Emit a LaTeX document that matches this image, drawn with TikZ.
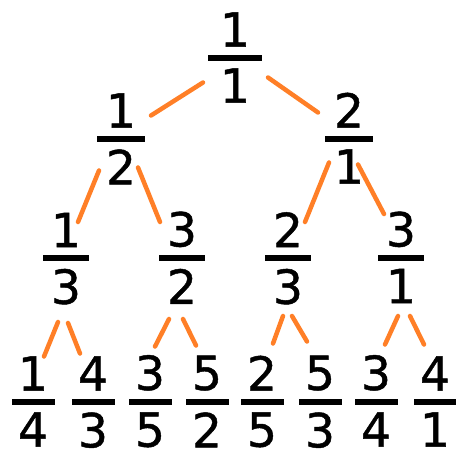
\documentclass[tikz,border=0pt]{standalone}
\usepackage{fontspec}
\setmainfont{DejaVu Sans}[FakeBold=1]
\usetikzlibrary{calc}
\definecolor{branchorange}{RGB}{255,127,39}
\begin{document}
\begin{tikzpicture}[x=1pt, y=-1pt, label distance=7.5pt,
  bar/.style={fill=black, inner sep=0pt, minimum height=6pt, minimum width=#1},
  every label/.style={inner sep=0pt, font=\fontsize{47}{50}\selectfont},
  branch/.style={draw=branchorange, line width=4.5pt, line cap=round},
  ]
 \useasboundingbox (0,0) rectangle (456,448);
 % root
 \node [bar=54pt, label=above:1, label=below:1] (r) at (235,57.5) {};
 % first row
 \node [bar=48pt, label=above:1, label=below:2] (a) at (121,138.5) {};
 \node [bar=48pt, label=above:2, label=below:1] (b) at (349,138.5) {};
 % second row
 \node [bar=46pt, label=above:1, label=below:3] (aa) at (66,258) {};
 \node [bar=46pt, label=above:3, label=below:2] (ab) at (182,258) {};
 \node [bar=46pt, label=above:2, label=below:3] (ba) at (288,258) {};
 \node [bar=46pt, label=above:3, label=below:1] (bb) at (401,258) {};
 % third row
 \node [bar=43pt, label=above:1, label=below:4] (aaa) at (33,401.5) {};
 \node [bar=43pt, label=above:4, label=below:3] (aab) at (93,401.5) {};
 \node [bar=43pt, label=above:3, label=below:5] (aba) at (150,401.5) {};
 \node [bar=43pt, label=above:5, label=below:2] (abb) at (207,401.5) {};
 \node [bar=43pt, label=above:2, label=below:5] (baa) at (262,401.5) {};
 \node [bar=43pt, label=above:5, label=below:3] (bab) at (320,401.5) {};
 \node [bar=43pt, label=above:3, label=below:4] (bba) at (376,401.5) {};
 \node [bar=43pt, label=above:4, label=below:1] (bbb) at (435,401.5) {};
 % branches
 \draw [branch] ($(r)+(-32,25)$) -- ($(a)+(30,-23)$);
 \draw [branch] ($(r)+(33,20)$) -- ($(b)+(-31,-26)$);
 \draw [branch] ($(a)+(-22,32)$) -- ($(aa)+(12,-36)$);
 \draw [branch] ($(a)+(17,29)$) -- ($(ab)+(-22,-36)$);
 \draw [branch] ($(b)+(-20,24)$) -- ($(ba)+(17,-36)$);
 \draw [branch] ($(b)+(9,26)$) -- ($(bb)+(-17,-44)$);
 \draw [branch] ($(aa)+(-8,64)$) -- ($(aaa)+(11,-45)$);
 \draw [branch] ($(aa)+(2,65)$) -- ($(aab)+(-13,-48)$);
 \draw [branch] ($(ab)+(-13,61)$) -- ($(aba)+(5,-55)$);
 \draw [branch] ($(ab)+(1,61)$) -- ($(abb)+(-11,-56)$);
 \draw [branch] ($(ba)+(-5,58)$) -- ($(baa)+(11,-58)$);
 \draw [branch] ($(ba)+(4,58)$) -- ($(bab)+(-13,-60)$);
 \draw [branch] ($(bb)+(-3,58)$) -- ($(bba)+(9,-57)$);
 \draw [branch] ($(bb)+(9,58)$) -- ($(bbb)+(-11,-57)$);
\end{tikzpicture}
\end{document}
